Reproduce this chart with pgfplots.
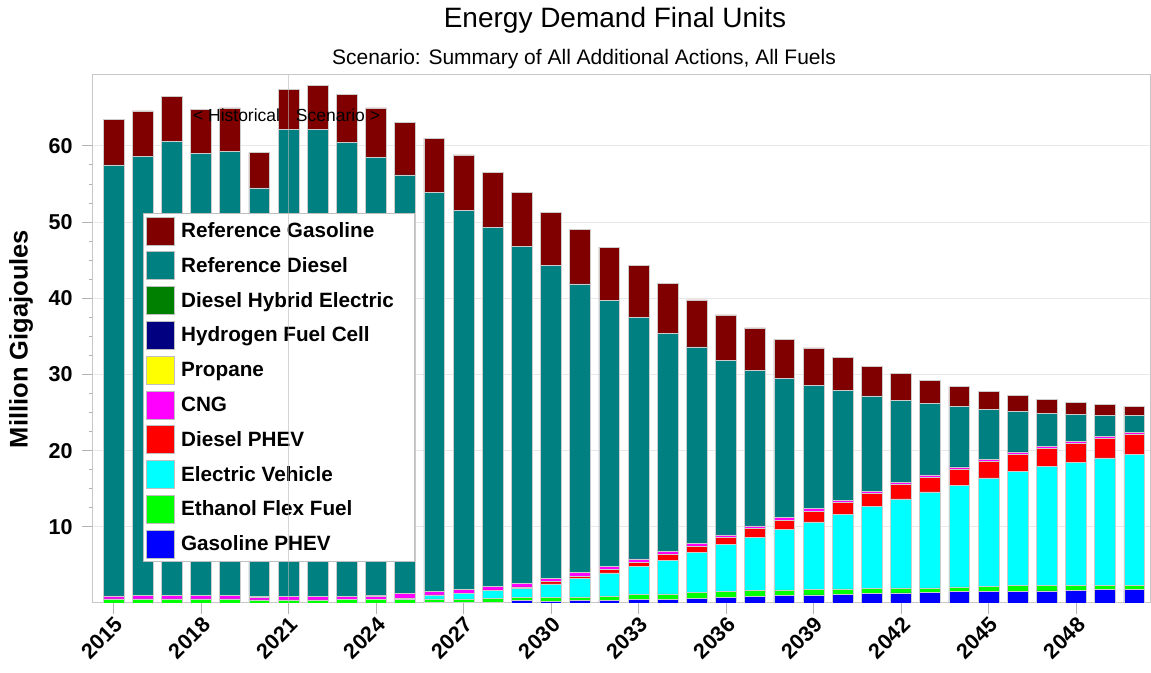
\documentclass[border=0pt]{standalone}
\usepackage{fontspec}
\setmainfont{Liberation Sans}
\usepackage{pgfplots}
\pgfplotsset{compat=1.18}
\usepackage{pgfplotstable}

\definecolor{cGas}{HTML}{800000}
\definecolor{cDsl}{HTML}{008080}
\definecolor{cDhe}{HTML}{008000}
\definecolor{cH2}{HTML}{000080}
\definecolor{cProp}{HTML}{FFFF00}
\definecolor{cCng}{HTML}{FF00FF}
\definecolor{cDphev}{HTML}{FF0000}
\definecolor{cEv}{HTML}{00FFFF}
\definecolor{cEth}{HTML}{00FF00}
\definecolor{cGphev}{HTML}{0000FF}

% million GJ by fuel, bottom of stack first
\pgfplotstableread{
year gphev eth  ev    dphev cng  prop h2   dhe diesel gas
2015 0     0.55 0     0     0.40 0    0    0   56.55  6.00
2016 0     0.55 0     0     0.42 0    0    0   57.63  6.00
2017 0     0.55 0     0     0.42 0    0    0   59.63  5.90
2018 0     0.55 0     0     0.45 0    0    0   58.05  5.75
2019 0     0.55 0     0     0.45 0    0    0   58.30  5.70
2020 0     0.40 0     0     0.35 0.08 0    0   53.67  4.60
2021 0     0.40 0     0     0.45 0    0    0   61.30  5.25
2022 0     0.40 0     0     0.45 0.06 0    0   61.24  5.75
2023 0     0.45 0     0     0.40 0    0    0   59.65  6.25
2024 0     0.50 0     0     0.45 0.06 0    0   57.49  6.50
2025 0     0.50 0.12  0     0.65 0    0    0   54.93  6.90
2026 0.05  0.50 0.50  0.02  0.50 0    0    0   52.33  7.10
2027 0.05  0.50 0.70  0.05  0.50 0    0    0   49.70  7.30
2028 0.08  0.50 1.05  0.08  0.45 0    0    0   47.14  7.20
2029 0.30  0.45 1.20  0.15  0.50 0    0    0   44.20  7.10
2030 0.25  0.50 1.75  0.30  0.45 0    0    0   41.05  7.00
2031 0.30  0.50 2.40  0.30  0.50 0    0    0   37.90  7.10
2032 0.35  0.60 3.00  0.50  0.40 0    0    0   34.85  7.00
2033 0.45  0.65 3.70  0.55  0.45 0    0    0   31.70  6.80
2034 0.48  0.70 4.45  0.80  0.35 0    0    0   28.62  6.55
2035 0.60  0.80 5.20  0.90  0.35 0    0    0   25.75  6.20
2036 0.75  0.80 6.10  1.00  0.30 0    0    0   22.90  5.95
2037 0.83  0.83 7.00  1.15  0.30 0    0    0   20.39  5.60
2038 0.96  0.75 7.95  1.20  0.35 0    0    0   18.29  5.10
2039 1.05  0.75 8.85  1.40  0.35 0    0    0   16.20  4.90
2040 1.15  0.70 9.80  1.55  0.30 0    0    0   14.40  4.30
2041 1.22  0.70 10.80 1.70  0.26 0    0    0   12.52  3.90
2042 1.32  0.65 11.70 1.88  0.25 0    0    0   10.80  3.50
2043 1.40  0.60 12.60 1.90  0.30 0    0    0    9.40  3.00
2044 1.50  0.60 13.35 2.15  0.20 0    0.05 0    7.95  2.60
2045 1.57  0.60 14.25 2.20  0.20 0    0.05 0    6.53  2.40
2046 1.57  0.70 15.05 2.20  0.26 0    0.05 0    5.32  2.10
2047 1.60  0.70 15.65 2.30  0.26 0    0.05 0    4.34  1.80
2048 1.65  0.65 16.20 2.45  0.26 0    0.05 0    3.54  1.55
2049 1.80  0.50 16.75 2.60  0.20 0    0.05 0    2.75  1.40
2050 1.83  0.50 17.20 2.65  0.20 0    0.05 0    2.17  1.20
}\energy

\begin{document}
\begin{tikzpicture}
\begin{axis}[
  name=ax,
  scale only axis,
  width=1057pt, height=528pt,
  ybar stacked, bar width=20.7pt,
  xmin=2014.3, xmax=2050.54,
  ymin=0, ymax=69.3,
  xtick={2015,2018,...,2048},
  ytick={10,20,...,60},
  minor y tick num=3,
  tick pos=left, tick align=outside,
  major tick length=11pt, minor tick length=4pt,
  every tick/.style={gray!60, line width=0.8pt},
  /pgf/number format/1000 sep={},
  /pgf/number format/assume math mode=true,
  tick label style={font=\bfseries\fontsize{21.5}{21.5}\selectfont},
  xticklabel style={rotate=45, anchor=north east, inner sep=1pt},
  yticklabel style={xshift=-6pt},
  ymajorgrids,
  grid style={gray!18, line width=0.8pt},
  axis line style={gray!45, line width=1pt},
  every axis plot/.append style={draw=gray!40, line width=0.5pt},
  reverse legend,
  legend cell align=left,
  legend style={at={(0.0473,0.7386)}, anchor=north west,
    draw=gray!50, fill=white, line width=1pt,
    font=\bfseries\fontsize{20.7}{24}\selectfont,
    row sep=6.2pt, inner xsep=3pt, inner ysep=3pt,
    nodes={inner xsep=6pt, inner ysep=1pt}},
  legend image code/.code={\draw[#1, draw=gray!50, line width=0.6pt] (0pt,-14pt) rectangle (28pt,14pt);},
]
\addplot[fill=cGphev] table[x=year, y=gphev] {\energy};
\addlegendentry{Gasoline PHEV}
\addplot[fill=cEth] table[x=year, y=eth] {\energy};
\addlegendentry{Ethanol Flex Fuel}
\addplot[fill=cEv] table[x=year, y=ev] {\energy};
\addlegendentry{Electric Vehicle}
\addplot[fill=cDphev] table[x=year, y=dphev] {\energy};
\addlegendentry{Diesel PHEV}
\addplot[fill=cCng] table[x=year, y=cng] {\energy};
\addlegendentry{CNG}
\addplot[fill=cProp] table[x=year, y=prop] {\energy};
\addlegendentry{Propane}
\addplot[fill=cH2] table[x=year, y=h2] {\energy};
\addlegendentry{Hydrogen Fuel Cell}
\addplot[fill=cDhe] table[x=year, y=dhe] {\energy};
\addlegendentry{Diesel Hybrid Electric\hspace{12pt}\null}
\addplot[fill=cDsl] table[x=year, y=diesel] {\energy};
\addlegendentry{Reference Diesel}
\addplot[fill=cGas] table[x=year, y=gas] {\energy};
\addlegendentry{Reference Gasoline}
\end{axis}

% historical / scenario divider at 2021, drawn over the bars
\draw[gray!55, line width=1pt, opacity=0.6] ([xshift=195.4pt]ax.south west) -- ([xshift=195.4pt]ax.north west);
\node[anchor=base east, inner sep=0pt, font=\fontsize{17.5}{19}\selectfont] at ([xshift=187.3pt, yshift=481.5pt]ax.south west) {< Historical};
\node[anchor=base west, inner sep=0pt, font=\fontsize{17.5}{19}\selectfont] at ([xshift=202.7pt, yshift=481.5pt]ax.south west) {Scenario >};

\node[anchor=base, font=\fontsize{28}{30}\selectfont] at ([xshift=522pt, yshift=47.7pt]ax.north west) {Energy Demand Final Units};
\node[anchor=base, font=\fontsize{21}{24}\selectfont] at ([xshift=491pt, yshift=10pt]ax.north west) {Scenario: Summary of All Additional Actions, All Fuels};
\node[rotate=90, font=\bfseries\fontsize{25.5}{27}\selectfont] at ([xshift=-72pt]ax.west) {Million Gigajoules};

\pgfresetboundingbox
\path ([shift={(-93pt,-70pt)}]ax.south west) rectangle ([shift={(1pt,75pt)}]ax.north east);
\end{tikzpicture}
\end{document}
